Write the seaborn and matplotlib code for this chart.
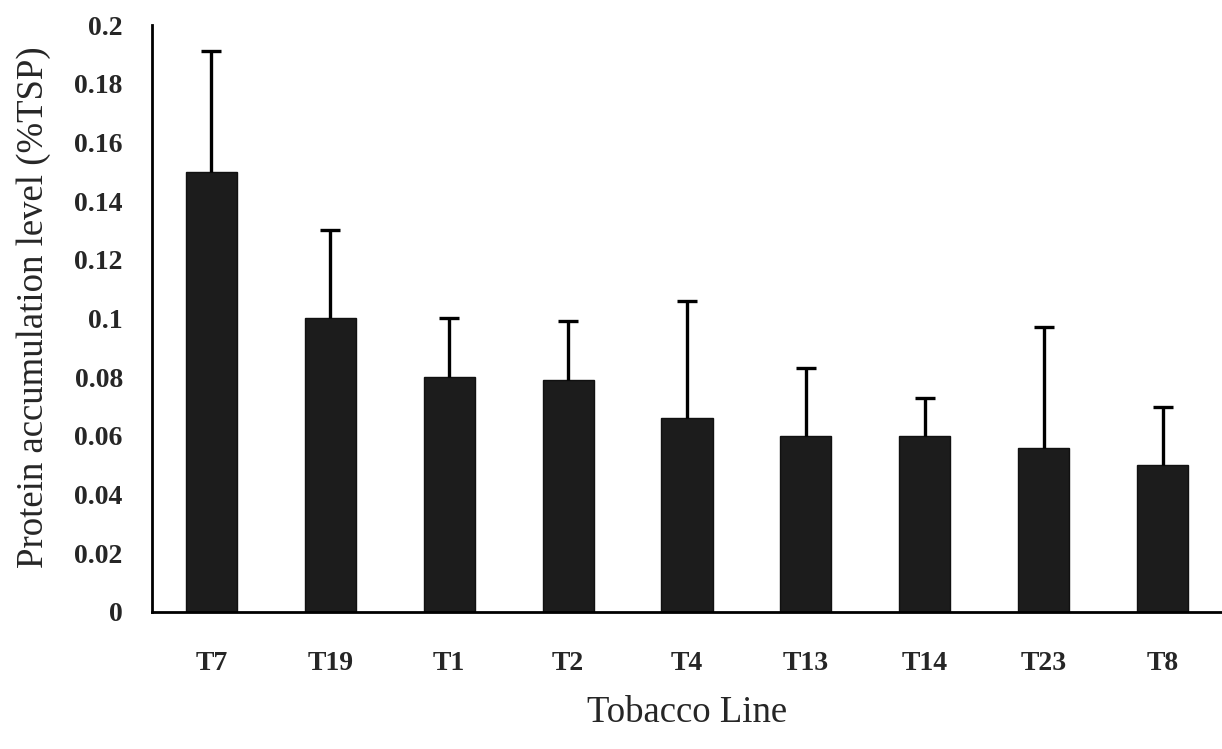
import numpy as np
import pandas as pd
import matplotlib
matplotlib.use("Agg")
import matplotlib.pyplot as plt
import seaborn as sns

# data
lines = ["T7", "T19", "T1", "T2", "T4", "T13", "T14", "T23", "T8"]
level = [0.150, 0.100, 0.080, 0.079, 0.066, 0.060, 0.060, 0.056, 0.050]
err_up = [0.041, 0.030, 0.020, 0.020, 0.040, 0.023, 0.013, 0.041, 0.020]
yticks = [0, 0.02, 0.04, 0.06, 0.08, 0.1, 0.12, 0.14, 0.16, 0.18, 0.2]
ytick_labels = ["0", "0.02", "0.04", "0.06", "0.08", "0.1", "0.12", "0.14", "0.16", "0.18", "0.2"]

df = pd.DataFrame({"line": lines, "level": level, "err": err_up})

sns.set_style("white")
plt.rcParams["font.family"] = ["Liberation Serif", "DejaVu Serif"]

fig = plt.figure(figsize=(12.22, 7.49), dpi=100)
ax = fig.add_axes([0.1244, 0.183, 0.8756, 0.7836])

sns.barplot(data=df, x="line", y="level", color="#1c1c1c", width=0.43,
            saturation=1, ax=ax, errorbar=None, edgecolor="#111111", linewidth=1)

# one-sided (upper) error bars, no cap at the bar top
x = np.arange(len(lines))
_, caps, _ = ax.errorbar(x, df["level"], yerr=[np.zeros(len(lines)), df["err"]], fmt="none",
                         ecolor="black", elinewidth=2.4, capsize=7, capthick=2.4)
caps[0].set_visible(False)

ax.set_xlim(-0.5, len(lines) - 0.5)
ax.set_ylim(0, 0.2)
ax.set_yticks(yticks)
ax.set_yticklabels(ytick_labels, fontsize=20, fontweight="bold")
ax.set_xticks(x)
ax.set_xticklabels(lines, fontsize=20, fontweight="bold")
ax.set_xticks(np.arange(-0.5, len(lines)), minor=True)
ax.tick_params(axis="x", which="major", length=0, pad=28)
ax.tick_params(axis="x", which="minor", length=6, width=2, direction="out", color="black")
ax.tick_params(axis="y", length=6, width=2, direction="out", color="black", pad=15)

for s in ["top", "right"]:
    ax.spines[s].set_visible(False)
for s in ["left", "bottom"]:
    ax.spines[s].set_color("black")
    ax.spines[s].set_linewidth(2)

ax.set_xlabel("Tobacco Line", fontsize=26.5, labelpad=14)
ax.set_ylabel("Protein accumulation level (%TSP)", fontsize=26.5)
ax.yaxis.set_label_coords(-0.094, 0.52)

fig.savefig("out.png", dpi=100)
